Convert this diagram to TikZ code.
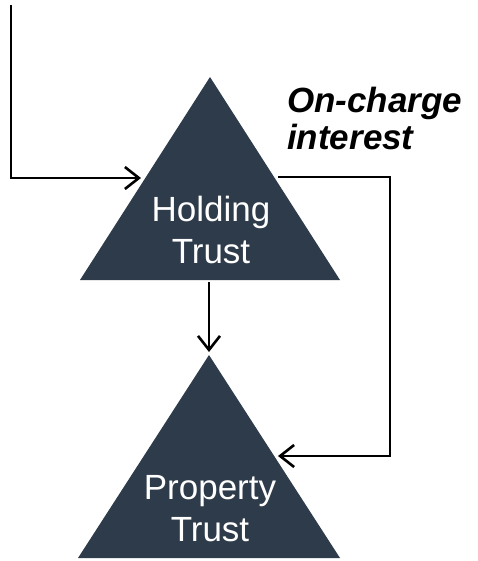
\documentclass[tikz,border=0pt]{standalone}
\usepackage{fontspec}
\setmainfont{Liberation Sans}
\usetikzlibrary{arrows.meta}
\definecolor{slate}{RGB}{46,59,74}
\begin{document}
\begin{tikzpicture}[x=1pt,y=-1pt,
  tri/.style={fill=slate,draw=none},
  trilabel/.style={text=white,font=\fontsize{35}{42}\selectfont,align=center,inner sep=0pt},
  conn/.style={draw=black,line width=2.6pt,-{Straight Barb[length=14pt,width=22pt,line width=2.6pt]}},
  notelabel/.style={font=\fontsize{35}{37}\selectfont\bfseries\itshape,align=left,inner sep=0pt}]
\useasboundingbox (0,0) rectangle (477,561);
% Holding Trust triangle
\coordinate (hA) at (210,77);
\coordinate (hL) at (80,280);
\coordinate (hR) at (340,280);
\fill[tri] (hA) -- (hL) -- (hR) -- cycle;
\node[trilabel] (hold) at (211,230) {Holding\\Trust};
% Property Trust triangle
\coordinate (pA) at (209,355);
\coordinate (pL) at (78,558);
\coordinate (pR) at (340,558);
\fill[tri] (pA) -- (pL) -- (pR) -- cycle;
\node[trilabel] (prop) at (210,509) {Property\\Trust};
% label
\node[notelabel,anchor=west] (note) at (287,118) {On-charge\\interest};
% connector endpoints
\coordinate (inTop) at (11,5);
\coordinate (inCorner) at (11,178);
\coordinate (hIn) at (141,178);
\coordinate (hBase) at (209,282);
\coordinate (pTop) at (209,352);
\coordinate (hOut) at (278,177);
\coordinate (rTop) at (390,177);
\coordinate (rBot) at (390,456);
\coordinate (pIn) at (278,456);
\draw[conn] (inTop) -- (inCorner) -- (hIn);
\draw[conn] (hBase) -- (pTop);
\draw[conn] (hOut) -- (rTop) -- (rBot) -- (pIn);
\end{tikzpicture}
\end{document}
